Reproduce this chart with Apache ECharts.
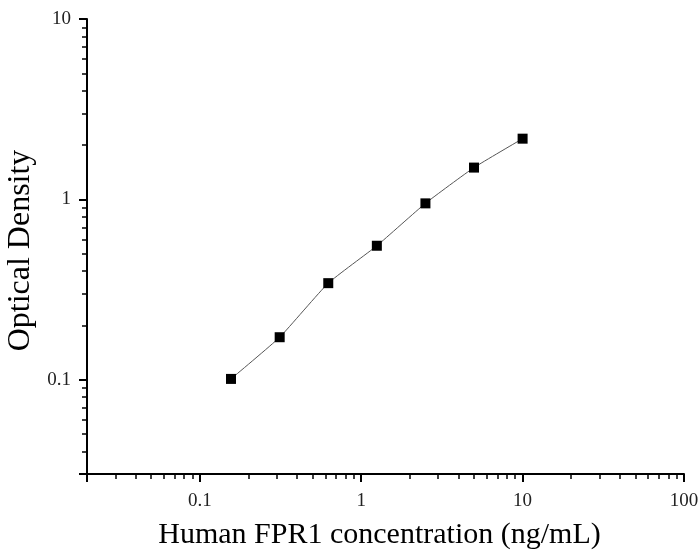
<!DOCTYPE html>
<html><head><meta charset="utf-8">
<script src="https://cdn.jsdelivr.net/npm/echarts@6/dist/echarts.min.js"></script>
<style>html,body{margin:0;padding:0;background:#fff}#c{width:699px;height:550px}</style>
</head><body><div id="c"></div>
<script>
const concentration = [0.156, 0.3125, 0.625, 1.25, 2.5, 5, 10];
const opticalDensity = [0.101, 0.172, 0.343, 0.553, 0.95, 1.50, 2.17];
const xTitle = 'Human FPR1 concentration (ng/mL)';
const yTitle = 'Optical Density';

const chart = echarts.init(document.getElementById('c'));
const font = 'Liberation Serif';
chart.setOption({
  animation: false,
  grid: {left: 87, right: 15, top: 19, bottom: 76, containLabel: false, outerBoundsMode: 'none'},
  xAxis: {
    type: 'log', min: 0.02, max: 100, logBase: 10,
    name: xTitle, nameLocation: 'middle', nameGap: 46,
    nameTextStyle: {fontFamily: font, fontSize: 30, color: '#000', padding: [0, 12, 0, 0]},
    axisLine: {lineStyle: {color: '#000', width: 2}},
    axisTick: {inside: false, length: 8, lineStyle: {color: '#000', width: 2}},
    minorTick: {show: true, splitNumber: 9, length: 5, lineStyle: {color: '#000', width: 1.5}},
    splitLine: {show: false},
    axisLabel: {showMinLabel: false, fontFamily: font, fontSize: 19, color: '#222', margin: 18}
  },
  yAxis: {
    type: 'log', min: 0.03, max: 10, logBase: 10,
    name: yTitle, nameLocation: 'middle', nameGap: 40,
    nameTextStyle: {fontFamily: font, fontSize: 32, color: '#000', padding: [0, 8, 0, 0]},
    axisLine: {show: true, lineStyle: {color: '#000', width: 2}},
    axisTick: {show: true, inside: false, length: 8, lineStyle: {color: '#000', width: 2}},
    minorTick: {show: true, splitNumber: 9, length: 5, lineStyle: {color: '#000', width: 1.5}},
    splitLine: {show: false},
    axisLabel: {showMinLabel: false, fontFamily: font, fontSize: 19, color: '#222', margin: 16}
  },
  series: [{
    type: 'line',
    data: concentration.map((x, i) => [x, opticalDensity[i]]),
    smooth: 0.15,
    symbol: 'rect', symbolSize: 10,
    itemStyle: {color: '#000'},
    lineStyle: {color: '#555', width: 1}
  }]
});
</script></body></html>
